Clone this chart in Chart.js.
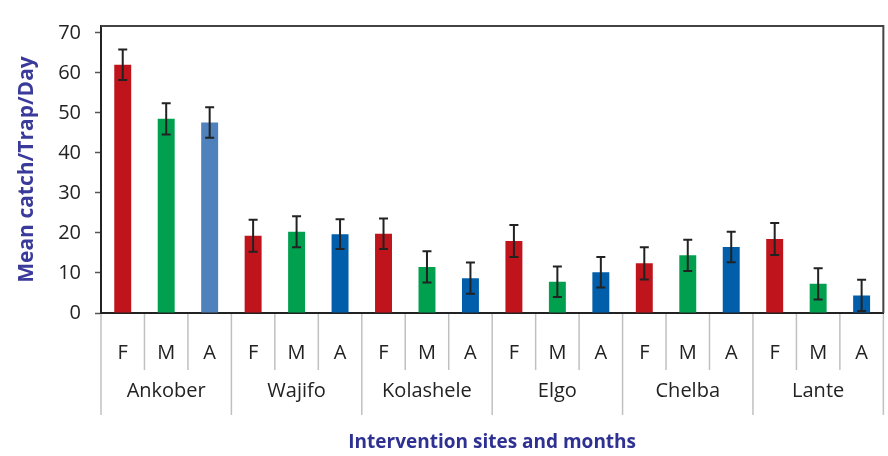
<!DOCTYPE html>
<html>
<head>
<meta charset="utf-8">
<script src="https://cdn.jsdelivr.net/npm/chart.js@4.4.0/dist/chart.umd.min.js"></script>
<style>
  html, body { margin: 0; padding: 0; background: #fff; }
</style>
</head>
<body>
<canvas id="catchChart" width="888" height="456"></canvas>
<script>
const sites = ['Ankober', 'Wajifo', 'Kolashele', 'Elgo', 'Chelba', 'Lante'];
const months = ['F', 'M', 'A'];
const meanCatch = [62.0, 48.5, 47.6, 19.3, 20.3, 19.7, 19.8, 11.5, 8.7, 18.0, 7.8, 10.2, 12.4, 14.4, 16.5, 18.5, 7.3, 4.4];
const errors = [3.8, 3.9, 3.8, 4.0, 3.9, 3.7, 3.8, 3.9, 3.9, 4.0, 3.8, 3.8, 4.0, 3.9, 3.8, 4.0, 3.9, 3.9];
const yTicks = [0, 10, 20, 30, 40, 50, 60, 70];

const monthColors = { F: '#C0141C', M: '#00A04F', A: '#005EAA' };
const labels = [];
const barColors = [];
sites.forEach((s, i) => {
    months.forEach(m => {
        labels.push(m);
        barColors.push(i === 0 && m === 'A' ? '#4F81BD' : monthColors[m]);
    });
});

const font = "'Open Sans', 'Liberation Sans', sans-serif";

// error bars, frame and the grouped x axis
const extras = {
    id: 'extras',
    afterDatasetsDraw(chart) {
        const ctx = chart.ctx;
        const x = chart.scales.x, y = chart.scales.y;
        ctx.save();
        ctx.strokeStyle = '#222';
        ctx.lineWidth = 2;
        meanCatch.forEach((v, i) => {
            const px = x.getPixelForValue(i);
            const top = y.getPixelForValue(v + errors[i]);
            const bot = y.getPixelForValue(Math.max(v - errors[i], 0));
            ctx.beginPath();
            ctx.moveTo(px, top); ctx.lineTo(px, bot);
            ctx.moveTo(px - 4.5, top); ctx.lineTo(px + 4.5, top);
            ctx.moveTo(px - 4.5, bot); ctx.lineTo(px + 4.5, bot);
            ctx.stroke();
        });
        ctx.restore();
    },
    afterDraw(chart) {
        const ctx = chart.ctx;
        const a = chart.chartArea;
        const x = chart.scales.x;
        const step = x.getPixelForValue(1) - x.getPixelForValue(0);
        ctx.save();
        // frame top and right
        ctx.strokeStyle = '#444';
        ctx.lineWidth = 2;
        ctx.beginPath();
        ctx.moveTo(a.left, a.top); ctx.lineTo(a.right, a.top); ctx.lineTo(a.right, a.bottom);
        ctx.stroke();
        // separators
        ctx.strokeStyle = '#c0c0c0';
        ctx.lineWidth = 1.5;
        for (let i = 0; i <= labels.length; i++) {
            const px = x.getPixelForValue(i) - step / 2;
            const len = i % 3 === 0 ? 102 : 57;
            ctx.beginPath();
            ctx.moveTo(px, a.bottom + 1); ctx.lineTo(px, a.bottom + len);
            ctx.stroke();
        }
        // site names
        ctx.fillStyle = '#222';
        ctx.font = '20px ' + font;
        ctx.textAlign = 'center';
        ctx.textBaseline = 'middle';
        sites.forEach((s, i) => {
            ctx.fillText(s, x.getPixelForValue(i * 3 + 1), 391);
        });
        ctx.restore();
    }
};

new Chart(document.getElementById('catchChart'), {
    type: 'bar',
    data: {
        labels: labels,
        datasets: [{
            data: meanCatch,
            backgroundColor: barColors,
            barPercentage: 0.39,
            categoryPercentage: 1
        }]
    },
    options: {
        responsive: false,
        animation: false,
        layout: { padding: { top: 6, right: 2, bottom: 0, left: 0 } },
        plugins: { legend: { display: false }, tooltip: { enabled: false } },
        scales: {
            x: {
                grid: { display: false },
                border: { color: '#222', width: 2 },
                ticks: { color: '#222', font: { family: font, size: 20 }, padding: 20, maxRotation: 0, autoSkip: false },
                title: {
                    display: true,
                    text: 'Intervention sites and months',
                    color: '#2E3192',
                    font: { family: font, size: 19, weight: 'bold' },
                    padding: { top: 4, bottom: 2 }
                },
                afterFit(scale) { scale.height = 143; }
            },
            y: {
                min: 0,
                max: 71.7,
                afterBuildTicks(scale) { scale.ticks = yTicks.map(v => ({ value: v })); },
                grid: { drawOnChartArea: false, tickLength: 6, color: '#555', tickWidth: 1.5 },
                border: { color: '#222', width: 2 },
                ticks: { color: '#222', font: { family: font, size: 20 }, padding: 14 },
                title: {
                    display: true,
                    text: 'Mean catch/Trap/Day',
                    color: '#3A3A9A',
                    font: { family: font, size: 21, weight: 'bold' },
                    padding: { top: 14, bottom: 0 }
                },
                afterFit(scale) { scale.width = 101; }
            }
        }
    },
    plugins: [extras]
});
</script>
</body>
</html>
